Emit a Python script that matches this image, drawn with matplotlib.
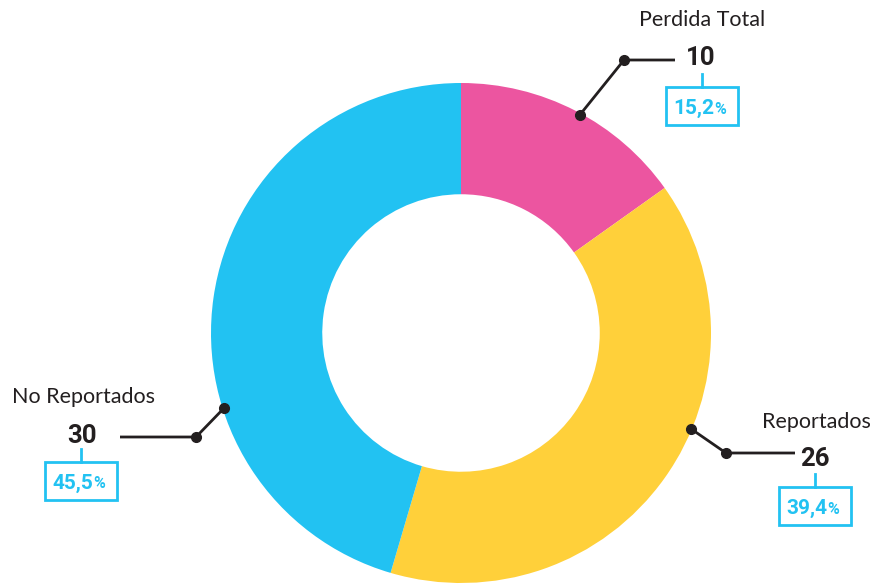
import matplotlib
matplotlib.use("Agg")
import matplotlib.pyplot as plt
from matplotlib.patches import Rectangle
import numpy as np

categories = ["Perdida Total", "Reportados", "No Reportados"]
values = [10, 26, 30]
colors = ["#EC55A0", "#FFD03A", "#22C2F2"]

W, H = 873, 584
CX, CY, R = 461, 333, 250  # pixel centre / radius

fig = plt.figure(figsize=(W / 100, H / 100), dpi=100)
ax = fig.add_axes([0, 0, 1, 1])

ax.pie(values, colors=colors, startangle=90, counterclock=False,
       radius=1.0, wedgeprops=dict(width=0.445, linewidth=0))
ax.set_xlim(-CX / R, (W - CX) / R)
ax.set_ylim(-(H - CY) / R, CY / R)
ax.set_aspect("equal")
ax.axis("off")

def P(x, y):
    return ((x - CX) / R, (CY - y) / R)

total = sum(values)
pcts = [v / total * 100 for v in values]

layout = {
    "Perdida Total": dict(ang=61.4, elbow=(624, 60), end=(675, 60), name=(702, 20), num=(701, 58), box=(702, 106)),
    "Reportados": dict(ang=-22.6, elbow=(726, 453), end=(795, 453), name=(816, 422), num=(815, 459), box=(815, 506)),
    "No Reportados": dict(ang=197.6, elbow=(196, 437), end=(120, 437), name=(83, 397), num=(82, 436), box=(81, 481)),
}

dark = "#231F20"
blue = "#22C2F2"
for cat, v, pct in zip(categories, values, pcts):
    L = layout[cat]
    a = np.deg2rad(L["ang"])
    p0 = (np.cos(a) * 0.995, np.sin(a) * 0.995)
    p1 = P(*L["elbow"])
    p2 = P(*L["end"])
    ax.plot([p0[0], p1[0], p2[0]], [p0[1], p1[1], p2[1]], color=dark, lw=2.0, solid_capstyle="butt", zorder=5)
    ax.plot([p0[0], p1[0]], [p0[1], p1[1]], "o", color=dark, ms=7, zorder=6)
    nx, ny = P(*L["name"])
    ax.text(nx, ny, cat, ha="center", va="center", fontsize=15.5, family="Lato", color=dark, fontweight="normal")
    mx, my = P(*L["num"])
    ax.text(mx, my, f"{v}", ha="center", va="center", fontsize=18.5, family="Roboto", fontweight="bold", color=dark)
    bx, by = L["box"]
    bw, bh = 72, 38
    x0, y0 = P(bx - bw / 2, by + bh / 2)
    ax.add_patch(Rectangle((x0, y0), bw / R, bh / R, fill=False, edgecolor=blue, lw=2.0, zorder=4))
    t1 = P(bx, by - bh / 2 - 13)
    t2 = P(bx, by - bh / 2)
    ax.plot([t1[0], t2[0]], [t1[1], t2[1]], color=blue, lw=2.0, zorder=4)
    s = f"{pct:.1f}".replace(".", ",")
    tx, ty = P(bx + 12, by + 7.5)
    ax.text(tx, ty, s, ha="right", va="baseline", fontsize=15, family="Roboto", fontweight="bold", color=blue)
    ax.text(tx + 0.5 / R, ty, "%", ha="left", va="baseline", fontsize=11.5, family="Roboto", fontweight="bold", color=blue)

fig.savefig("out.png", dpi=100, facecolor="white")
